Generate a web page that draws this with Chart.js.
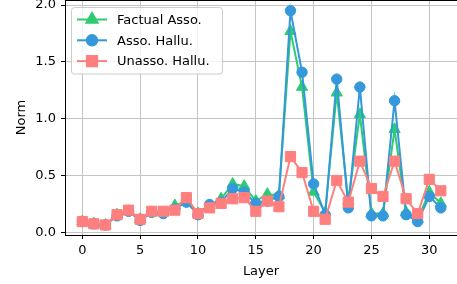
<!DOCTYPE html>
<html>
<head>
<meta charset="utf-8">
<script src="https://cdn.jsdelivr.net/npm/chart.js@4.4.1/dist/chart.umd.min.js"></script>
<style>
  html, body { margin: 0; padding: 0; background: #fff; }
  #wrap { width: 457px; height: 284px; }
</style>
</head>
<body>
<div id="wrap"><canvas id="myChart" width="457" height="284"></canvas></div>
<script>
var layers = [0, 1, 2, 3, 4, 5, 6, 7, 8, 9, 10, 11, 12, 13, 14, 15, 16, 17, 18, 19, 20, 21, 22, 23, 24, 25, 26, 27, 28, 29, 30, 31];
var factualAsso = [0.10, 0.08, 0.07, 0.16, 0.19, 0.12, 0.18, 0.18, 0.24, 0.28, 0.17, 0.24, 0.30, 0.43, 0.41, 0.28, 0.34, 0.33, 1.77, 1.28, 0.36, 0.18, 1.23, 0.28, 1.04, 0.17, 0.17, 0.91, 0.18, 0.12, 0.36, 0.26];
var assoHallu = [0.10, 0.08, 0.07, 0.15, 0.19, 0.11, 0.18, 0.17, 0.21, 0.27, 0.16, 0.25, 0.27, 0.39, 0.36, 0.26, 0.28, 0.32, 1.95, 1.41, 0.43, 0.16, 1.35, 0.22, 1.28, 0.15, 0.15, 1.16, 0.16, 0.10, 0.32, 0.22];
var unassoHallu = [0.10, 0.08, 0.07, 0.16, 0.20, 0.12, 0.19, 0.19, 0.20, 0.31, 0.17, 0.22, 0.26, 0.30, 0.31, 0.19, 0.28, 0.23, 0.67, 0.53, 0.19, 0.12, 0.46, 0.27, 0.63, 0.39, 0.32, 0.63, 0.30, 0.17, 0.47, 0.37];
var xTicks = [0, 5, 10, 15, 20, 25, 30];
var yTicks = [0, 0.5, 1.0, 1.5, 2.0];

function pts(vals) {
  return vals.map(function (v, i) { return { x: layers[i], y: v }; });
}

var font = { family: "'DejaVu Sans', sans-serif", size: 13 };

function noPad(s) {
  s.paddingLeft = 0; s.paddingRight = 0; s.paddingTop = 0; s.paddingBottom = 0;
}

var legendInside = {
  id: 'legendInside',
  afterDraw: function (chart) {
    var ctx = chart.ctx;
    var x0 = 71.5, y0 = 7.5, w = 151, h = 66.5;
    ctx.save();
    ctx.beginPath();
    ctx.roundRect(x0, y0, w, h, 3);
    ctx.fillStyle = 'rgba(255,255,255,0.8)';
    ctx.fill();
    ctx.strokeStyle = '#cccccc';
    ctx.lineWidth = 1;
    ctx.stroke();
    chart.data.datasets.forEach(function (ds, k) {
      var rowY = 19.5 + k * 20.8;
      ctx.strokeStyle = ds.borderColor;
      ctx.lineWidth = 2;
      ctx.beginPath();
      ctx.moveTo(77, rowY);
      ctx.lineTo(107, rowY);
      ctx.stroke();
      ctx.fillStyle = ds.pointBackgroundColor;
      ctx.strokeStyle = ds.pointBorderColor;
      Chart.helpers.drawPoint(ctx, {
        pointStyle: ds.pointStyle, radius: ds.pointRadius, rotation: 0, borderWidth: 1
      }, 92, rowY);
      ctx.fillStyle = '#000';
      ctx.font = "13px 'DejaVu Sans', sans-serif";
      ctx.textBaseline = 'middle';
      ctx.textAlign = 'left';
      ctx.fillText(ds.label, 117, rowY + 1);
    });
    // top spine
    var a = chart.chartArea;
    ctx.strokeStyle = '#000';
    ctx.lineWidth = 1;
    ctx.beginPath();
    ctx.moveTo(a.left, a.top + 0.5);
    ctx.lineTo(a.right, a.top + 0.5);
    ctx.stroke();
    ctx.restore();
  }
};

var chart = new Chart(document.getElementById('myChart').getContext('2d'), {
  type: 'line',
  data: {
    datasets: [
      {
        label: 'Factual Asso.',
        data: pts(factualAsso),
        borderColor: '#2ecc71',
        backgroundColor: '#2ecc71',
        pointBackgroundColor: '#2ecc71',
        pointBorderColor: '#2ecc71',
        pointStyle: 'triangle',
        pointRadius: 6.5,
        pointBorderWidth: 1,
        borderWidth: 2,
        order: 3
      },
      {
        label: 'Asso. Hallu.',
        data: pts(assoHallu),
        borderColor: '#3498db',
        backgroundColor: '#3498db',
        pointBackgroundColor: '#3498db',
        pointBorderColor: '#3498db',
        pointStyle: 'circle',
        pointRadius: 5.2,
        pointBorderWidth: 1,
        borderWidth: 2,
        order: 2
      },
      {
        label: 'Unasso. Hallu.',
        data: pts(unassoHallu),
        borderColor: '#ff7f7f',
        backgroundColor: '#ff7f7f',
        pointBackgroundColor: '#ff7f7f',
        pointBorderColor: '#ff7f7f',
        pointStyle: 'rect',
        pointRadius: 7.2,
        pointBorderWidth: 1,
        borderWidth: 2,
        order: 1
      }
    ]
  },
  options: {
    responsive: false,
    animation: false,
    layout: { padding: 0, autoPadding: false },
    plugins: {
      legend: { display: false },
      tooltip: { enabled: false }
    },
    scales: {
      x: {
        type: 'linear',
        min: -1.5,
        max: 32.4,
        afterBuildTicks: function (s) { s.ticks = xTicks.map(function (v) { return { value: v }; }); },
        afterFit: function (s) { s.height = 49; noPad(s); },
        grid: { color: '#c4c4c4', lineWidth: 1, tickColor: '#000', tickLength: 4, drawTicks: true },
        border: { color: '#000', width: 1 },
        ticks: { color: '#000', font: font, padding: 4, maxRotation: 0 },
        title: { display: true, text: 'Layer', color: '#000', font: font, padding: { top: 0, bottom: 5 } }
      },
      y: {
        type: 'linear',
        min: -0.018,
        max: 2.044,
        afterBuildTicks: function (s) { s.ticks = yTicks.map(function (v) { return { value: v }; }); },
        afterFit: function (s) { s.width = 65; noPad(s); },
        grid: { color: '#c4c4c4', lineWidth: 1, tickColor: '#000', tickLength: 4, drawTicks: true },
        border: { color: '#000', width: 1 },
        ticks: {
          color: '#000', font: font, padding: 5,
          callback: function (v) { return v.toFixed(1); }
        },
        title: { display: true, text: 'Norm', color: '#000', font: font, padding: { top: 14, bottom: 0 } }
      }
    }
  },
  plugins: [legendInside]
});
</script>
</body>
</html>
